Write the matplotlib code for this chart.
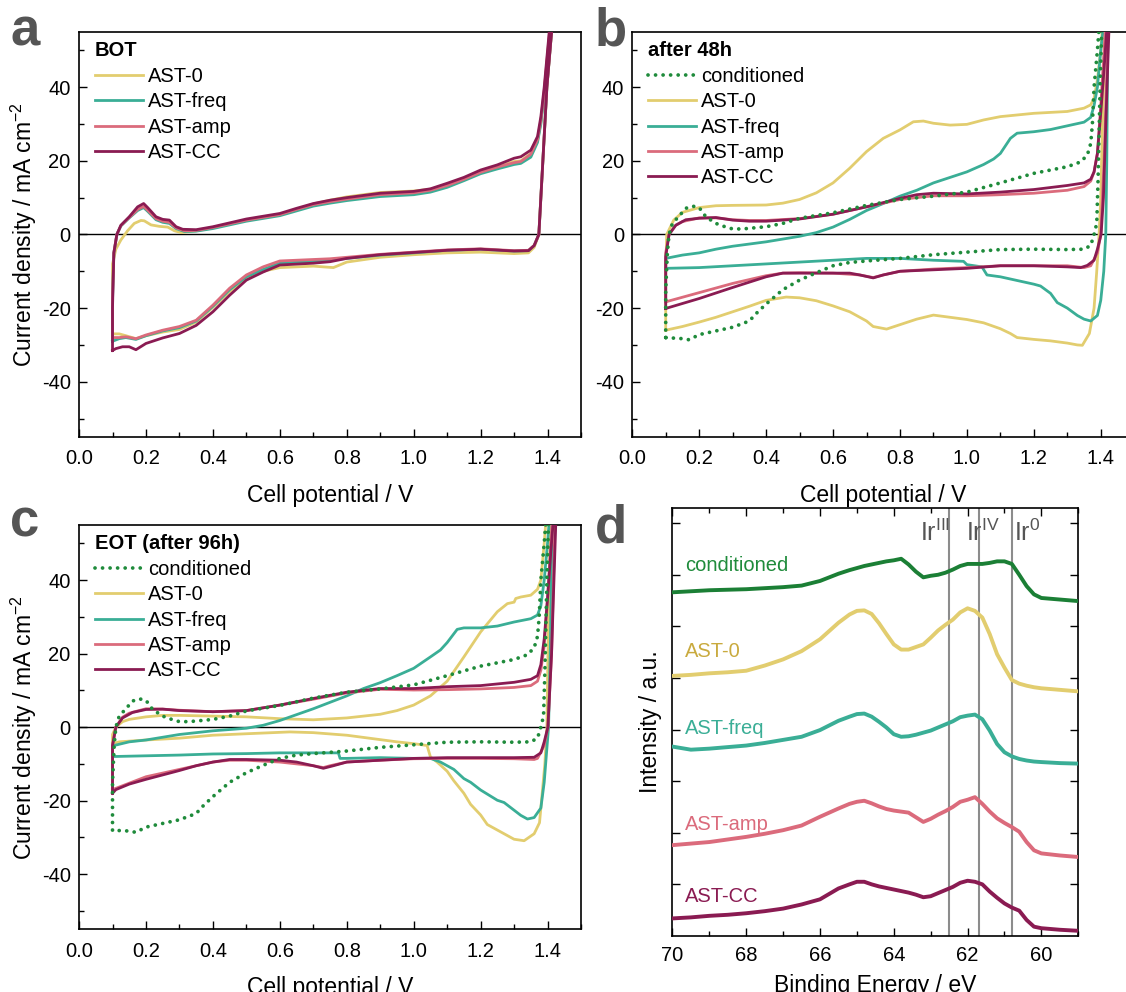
import matplotlib
matplotlib.use("Agg")
import matplotlib.pyplot as plt
from matplotlib.ticker import MultipleLocator, NullFormatter

plt.rcParams['font.family'] = ['Liberation Sans', 'DejaVu Sans']
plt.rcParams['mathtext.default'] = 'regular'

# ---------------- colours ----------------
C_0 = '#e2cd6f'
C_FREQ = '#3aae96'
C_AMP = '#db6b7c'
C_CC = '#8a1b52'
C_COND = '#1f8b3b'

labels_ast = ['AST-0', 'AST-freq', 'AST-amp', 'AST-CC']

# ================= Panel a (BOT) =================
a0_v = [0.100, 0.100, 0.110, 0.125, 0.145, 0.165, 0.185, 0.195, 0.215, 0.240, 0.265, 0.285, 0.305, 0.350, 0.400, 0.500, 0.600, 0.650, 0.700, 0.750, 0.800, 0.900, 1.000, 1.050, 1.100, 1.150, 1.200, 1.250, 1.300, 1.320, 1.350, 1.370, 1.380, 1.390, 1.400, 1.412, 1.425,
        1.412, 1.398, 1.386, 1.374, 1.360, 1.343, 1.300, 1.200, 1.100, 1.000, 0.900, 0.800, 0.760, 0.730, 0.700, 0.650, 0.600, 0.550, 0.500, 0.450, 0.400, 0.350, 0.300, 0.250, 0.200, 0.170, 0.140, 0.120, 0.100]
a0_j = [-27, -8, -4, -1.5, 1, 3, 3.8, 3.7, 2.6, 2.2, 2.0, 1.0, 0.5, 1.0, 1.8, 3.8, 5.4, 6.8, 8.3, 9.3, 10.2, 11.4, 11.8, 12.3, 13.5, 15.2, 17.0, 18.4, 19.8, 20.0, 22.0, 25.5, 30.5, 38.5, 48.5, 60, 72,
        55, 40, 20, 0, -3.5, -5.0, -5.2, -4.8, -5.0, -5.5, -6.2, -7.5, -9.0, -8.8, -8.6, -8.8, -9.0, -10.0, -11.8, -15.5, -19.8, -23.8, -25.8, -26.5, -27.5, -28.3, -27.5, -27.0, -27.0]

afreq_v = [0.100, 0.100, 0.104, 0.113, 0.125, 0.150, 0.175, 0.193, 0.205, 0.230, 0.250, 0.270, 0.290, 0.315, 0.350, 0.400, 0.500, 0.600, 0.650, 0.700, 0.750, 0.800, 0.900, 1.000, 1.050, 1.100, 1.150, 1.200, 1.250, 1.300, 1.320, 1.350, 1.370, 1.380, 1.390, 1.400, 1.410, 1.425,
           1.412, 1.398, 1.386, 1.374, 1.360, 1.343, 1.300, 1.200, 1.100, 1.000, 0.900, 0.800, 0.750, 0.700, 0.600, 0.550, 0.500, 0.450, 0.400, 0.350, 0.300, 0.250, 0.200, 0.170, 0.140, 0.120, 0.100]
afreq_j = [-29, -18, -5, 0, 2.3, 4.5, 6.5, 7.3, 6.3, 4.0, 3.3, 3.0, 1.6, 0.8, 0.9, 1.6, 3.6, 5.1, 6.4, 7.7, 8.5, 9.2, 10.3, 10.8, 11.5, 12.8, 14.6, 16.5, 17.8, 19.0, 19.3, 21.0, 25.0, 30.0, 38.0, 48.0, 58.0, 72,
           55, 40, 20, 0, -3, -4.4, -4.5, -4.0, -4.3, -5.0, -5.6, -6.5, -7.0, -7.3, -7.8, -9.5, -11.5, -15.0, -19.5, -23.5, -25.3, -26.2, -27.5, -28.5, -28.0, -28.3, -29.0]

aamp_v = [0.100, 0.100, 0.104, 0.113, 0.125, 0.150, 0.175, 0.193, 0.205, 0.230, 0.250, 0.270, 0.290, 0.315, 0.350, 0.400, 0.500, 0.600, 0.650, 0.700, 0.750, 0.800, 0.900, 1.000, 1.050, 1.100, 1.150, 1.200, 1.250, 1.300, 1.320, 1.350, 1.370, 1.380, 1.390, 1.400, 1.410, 1.425,
          1.412, 1.398, 1.386, 1.374, 1.360, 1.343, 1.300, 1.200, 1.100, 1.000, 0.900, 0.800, 0.750, 0.700, 0.600, 0.550, 0.500, 0.450, 0.400, 0.350, 0.300, 0.250, 0.200, 0.170, 0.140, 0.120, 0.100]
aamp_j = [-28, -17, -5, 0, 2.4, 4.6, 6.8, 7.6, 6.6, 4.3, 3.6, 3.3, 1.8, 1.0, 1.1, 1.9, 3.9, 5.4, 6.8, 8.1, 8.9, 9.6, 10.8, 11.3, 12.0, 13.3, 15.0, 16.9, 18.3, 19.5, 19.8, 21.8, 25.8, 31.0, 39.0, 49.0, 59.0, 72,
          55, 40, 20, 0, -3, -4.3, -4.4, -3.9, -4.2, -4.8, -5.4, -6.2, -6.6, -6.8, -7.2, -8.8, -11.0, -14.6, -19.2, -23.3, -25.0, -26.0, -27.3, -28.3, -27.8, -28.0, -28.0]

acc_v = [0.100, 0.100, 0.104, 0.113, 0.125, 0.150, 0.175, 0.193, 0.205, 0.230, 0.250, 0.270, 0.290, 0.310, 0.350, 0.400, 0.500, 0.600, 0.650, 0.700, 0.750, 0.800, 0.900, 1.000, 1.050, 1.100, 1.150, 1.200, 1.250, 1.300, 1.320, 1.350, 1.370, 1.380, 1.390, 1.400, 1.410, 1.425,
         1.412, 1.398, 1.386, 1.374, 1.360, 1.343, 1.300, 1.200, 1.100, 1.000, 0.900, 0.800, 0.750, 0.700, 0.600, 0.550, 0.500, 0.450, 0.400, 0.350, 0.300, 0.250, 0.200, 0.170, 0.150, 0.130, 0.110, 0.100]
acc_j = [-31.5, -20, -5, 0, 2.5, 4.8, 7.5, 8.4, 7.3, 4.8, 4.1, 3.9, 2.1, 1.4, 1.3, 2.1, 4.2, 5.7, 7.1, 8.4, 9.3, 10.0, 11.2, 11.7, 12.4, 13.9, 15.5, 17.5, 18.9, 20.7, 21.1, 22.9, 26.6, 32, 40, 50, 60, 72,
         55, 40, 20, 0, -3, -4.4, -4.5, -4.0, -4.3, -4.9, -5.5, -6.5, -7.4, -7.8, -8.3, -10.2, -12.4, -16.5, -21, -24.7, -26.9, -28.1, -29.6, -31.3, -30.5, -30.5, -31, -31.5]

# ================= conditioned (panels b and c) =================
cond_v = [0.100, 0.100, 0.105, 0.110, 0.120, 0.140, 0.160, 0.180, 0.200, 0.220, 0.250, 0.280, 0.300, 0.330, 0.400, 0.450, 0.500, 0.600, 0.700, 0.800, 0.900, 1.000, 1.100, 1.200, 1.300, 1.340, 1.360, 1.370, 1.375, 1.380, 1.390, 1.400,
          1.405, 1.398, 1.392, 1.388, 1.380, 1.370, 1.350, 1.300, 1.200, 1.100, 1.000, 0.900, 0.800, 0.700, 0.650, 0.600, 0.550, 0.500, 0.450, 0.400, 0.370, 0.350, 0.300, 0.250, 0.200, 0.170, 0.140, 0.110, 0.100]
cond_j = [-28, -15, -5, 0, 3, 5, 7.1, 7.7, 7.3, 4.8, 3.0, 2.0, 1.5, 1.5, 2.1, 3.0, 4.4, 5.9, 7.9, 9.5, 10.4, 11.5, 14.0, 16.6, 18.4, 19.7, 21.6, 24.7, 30, 40, 50, 62,
          62, 40, 15, 3, 0, -3, -4, -4.1, -4.0, -4.1, -4.8, -5.5, -6.5, -7.2, -7.6, -8.5, -10.4, -12.4, -15.0, -18.9, -21.5, -23.5, -25.2, -26.2, -27.2, -28.6, -28.2, -28.1, -28]

# ================= Panel b (after 48h) =================
b0_v = [0.100, 0.100, 0.103, 0.124, 0.150, 0.200, 0.250, 0.300, 0.400, 0.450, 0.500, 0.550, 0.600, 0.650, 0.700, 0.750, 0.800, 0.840, 0.870, 0.900, 0.950, 1.000, 1.050, 1.100, 1.200, 1.300, 1.350, 1.370, 1.380, 1.390, 1.400, 1.410,
        1.415, 1.405, 1.400, 1.395, 1.388, 1.380, 1.366, 1.345, 1.330, 1.300, 1.250, 1.200, 1.150, 1.130, 1.100, 1.050, 1.000, 0.950, 0.900, 0.850, 0.800, 0.760, 0.720, 0.700, 0.650, 0.600, 0.550, 0.500, 0.460, 0.400, 0.350, 0.300, 0.250, 0.200, 0.150, 0.100]
b0_j = [-26, -10, 0, 3.9, 6.0, 7.3, 7.8, 7.9, 8.0, 8.5, 9.5, 11.3, 14.0, 18.0, 22.5, 26.1, 28.4, 30.6, 30.8, 30.2, 29.7, 29.9, 31.1, 32.0, 32.9, 33.4, 34.3, 35.2, 37.0, 42.0, 50, 62,
        62, 30, 10, 0, -10, -20, -26.9, -30.1, -30.0, -29.5, -28.9, -28.5, -28.0, -26.9, -25.6, -24.0, -23.1, -22.5, -21.9, -23.0, -24.5, -25.7, -25.0, -23.5, -21.0, -19.4, -18.0, -17.2, -17.0, -17.9, -19.5, -21.0, -22.5, -23.8, -25.0, -26.0]

bfreq_v = [0.100, 0.100, 0.150, 0.200, 0.250, 0.300, 0.400, 0.500, 0.550, 0.600, 0.650, 0.700, 0.750, 0.800, 0.850, 0.900, 0.950, 1.000, 1.050, 1.080, 1.100, 1.130, 1.150, 1.200, 1.250, 1.300, 1.350, 1.370, 1.380, 1.390, 1.400, 1.410, 1.420,
           1.422, 1.418, 1.415, 1.409, 1.400, 1.390, 1.370, 1.350, 1.330, 1.300, 1.270, 1.250, 1.220, 1.200, 1.150, 1.100, 1.060, 1.045, 1.000, 0.990, 0.900, 0.800, 0.700, 0.600, 0.500, 0.400, 0.300, 0.200, 0.100]
bfreq_j = [-9.2, -6.5, -5.6, -5.0, -4.0, -3.2, -2.0, -0.5, 0.5, 2.0, 4.1, 6.5, 8.4, 10.4, 12.0, 14.0, 15.5, 17.0, 19.0, 20.5, 22.0, 26.1, 27.5, 27.9, 28.5, 29.5, 30.5, 31.8, 35, 40, 50, 58, 65,
           65, 20, 0, -10, -17.9, -22, -23.5, -23, -22, -20, -18.5, -16, -14, -13.5, -12.5, -11.5, -11, -8.8, -8.2, -7.3, -7.0, -6.5, -6.5, -7.0, -7.5, -8.0, -8.5, -9.0, -9.2]

bamp_v = [0.100, 0.100, 0.110, 0.130, 0.150, 0.200, 0.250, 0.300, 0.350, 0.400, 0.500, 0.600, 0.700, 0.800, 0.900, 1.000, 1.100, 1.200, 1.300, 1.350, 1.370, 1.380, 1.390, 1.400, 1.410, 1.420,
          1.425, 1.410, 1.400, 1.390, 1.370, 1.350, 1.300, 1.200, 1.100, 1.000, 0.900, 0.800, 0.750, 0.720, 0.680, 0.600, 0.500, 0.450, 0.400, 0.300, 0.200, 0.100]
bamp_j = [-18.3, -5, 0, 2.5, 3.5, 4.5, 4.5, 4.0, 3.8, 3.8, 4.3, 5.5, 7.5, 9.5, 10.5, 10.5, 10.8, 11.2, 12.0, 13.0, 14.5, 17.0, 22.0, 35.0, 50, 65,
          65, 20, 0, -5, -8.5, -9, -8.5, -8.5, -8.5, -9.0, -9.4, -10.0, -11.0, -11.7, -11.0, -10.5, -10.4, -10.5, -11.2, -13.3, -15.8, -18.3]

bcc_v = [0.100, 0.100, 0.110, 0.130, 0.160, 0.200, 0.250, 0.300, 0.350, 0.400, 0.500, 0.600, 0.700, 0.800, 0.850, 0.900, 1.000, 1.100, 1.200, 1.300, 1.350, 1.370, 1.380, 1.390, 1.400, 1.410, 1.425,
         1.428, 1.415, 1.408, 1.401, 1.390, 1.380, 1.360, 1.340, 1.300, 1.200, 1.100, 1.000, 0.900, 0.800, 0.750, 0.720, 0.680, 0.650, 0.550, 0.450, 0.400, 0.300, 0.200, 0.100]
bcc_j = [-20.1, -6, 0, 2.5, 4.0, 4.4, 4.6, 3.9, 3.6, 3.6, 4.2, 5.5, 7.5, 9.8, 10.8, 11.2, 11.0, 11.5, 12.2, 13.3, 14.0, 15.0, 17.0, 22.0, 33.0, 45.0, 65,
         65, 30, 10, 0, -4, -7, -8.4, -9, -8.8, -8.5, -8.5, -9.2, -9.6, -10.0, -11.0, -11.8, -11.0, -10.5, -10.5, -10.5, -11.5, -14.4, -17.4, -20.1]

# ================= Panel c (EOT, after 96h) =================
c0_v = [0.100, 0.100, 0.110, 0.130, 0.150, 0.200, 0.250, 0.300, 0.400, 0.500, 0.600, 0.700, 0.800, 0.900, 0.950, 1.000, 1.050, 1.100, 1.150, 1.200, 1.250, 1.280, 1.300, 1.305, 1.320, 1.350, 1.370, 1.380, 1.390, 1.400,
        1.410, 1.402, 1.398, 1.392, 1.385, 1.376, 1.360, 1.330, 1.300, 1.270, 1.250, 1.220, 1.200, 1.170, 1.150, 1.120, 1.100, 1.070, 1.050, 1.040, 1.000, 0.950, 0.900, 0.800, 0.700, 0.630, 0.500, 0.400, 0.300, 0.200, 0.120, 0.100]
c0_j = [-4.5, -2, 0, 1.5, 2.1, 2.8, 3.2, 3.2, 3.0, 2.8, 2.3, 2.0, 2.5, 3.5, 4.5, 6.0, 8.5, 12.5, 19.1, 25.9, 31.4, 33.6, 34.0, 35.0, 35.4, 35.9, 37.5, 40.0, 50.0, 62,
        62, 25, 0, -10, -17, -26, -29, -30.9, -30.5, -29, -28, -26.5, -23.9, -21, -18, -14.6, -12, -9.5, -8.1, -5.0, -4.5, -4.0, -3.4, -2.2, -1.5, -1.3, -1.8, -2.2, -3.0, -3.5, -4.0, -4.5]

cfreq_v = [0.100, 0.100, 0.150, 0.200, 0.300, 0.400, 0.500, 0.550, 0.600, 0.700, 0.800, 0.850, 0.900, 0.950, 1.000, 1.050, 1.080, 1.100, 1.130, 1.150, 1.200, 1.250, 1.300, 1.350, 1.370, 1.380, 1.390, 1.400, 1.410,
           1.415, 1.408, 1.403, 1.390, 1.380, 1.360, 1.340, 1.320, 1.300, 1.270, 1.250, 1.200, 1.170, 1.150, 1.120, 1.100, 1.080, 1.050, 1.000, 0.900, 0.800, 0.780, 0.775, 0.700, 0.600, 0.500, 0.400, 0.300, 0.200, 0.100]
cfreq_j = [-8.0, -5.1, -4.0, -3.5, -2.0, -1.0, -0.3, 0.5, 1.8, 5.0, 8.5, 10.5, 12.1, 14.0, 16.0, 19.1, 21.0, 23.0, 26.6, 27.0, 27.0, 27.5, 28.6, 29.5, 30.5, 33.0, 40.0, 50.0, 62,
           62, 20, 0, -15, -22, -24.6, -25, -24, -22.6, -20.5, -19.9, -17.1, -15, -14, -11.5, -10.5, -9.5, -8.5, -8.5, -8.3, -8.5, -8.5, -7.0, -7.0, -7.0, -7.2, -7.3, -7.6, -7.8, -8.0]

camp_v = [0.100, 0.100, 0.110, 0.130, 0.150, 0.200, 0.250, 0.300, 0.400, 0.500, 0.600, 0.700, 0.800, 0.900, 1.000, 1.100, 1.200, 1.300, 1.350, 1.370, 1.380, 1.390, 1.400, 1.410, 1.420,
          1.425, 1.412, 1.401, 1.390, 1.370, 1.360, 1.300, 1.200, 1.100, 1.000, 0.900, 0.800, 0.750, 0.730, 0.700, 0.600, 0.500, 0.450, 0.400, 0.300, 0.200, 0.100]
camp_j = [-17.5, -5, 0, 2.7, 3.8, 5.0, 4.9, 4.6, 4.2, 4.5, 6.0, 7.6, 9.3, 10.3, 10.1, 10.2, 10.4, 10.8, 11.3, 12.5, 15.5, 22, 35, 50, 65,
          65, 20, 0, -5, -8.5, -8.8, -8.6, -8.5, -8.5, -8.6, -9.0, -9.5, -10.5, -11.0, -10.5, -9.5, -9.0, -9.0, -9.5, -11.5, -13.5, -17.0]

ccc_v = [0.100, 0.100, 0.110, 0.130, 0.160, 0.200, 0.250, 0.300, 0.400, 0.500, 0.600, 0.700, 0.800, 0.900, 1.000, 1.100, 1.200, 1.300, 1.350, 1.370, 1.380, 1.390, 1.400, 1.410, 1.425,
         1.428, 1.412, 1.401, 1.390, 1.380, 1.360, 1.300, 1.200, 1.100, 1.000, 0.900, 0.800, 0.760, 0.730, 0.700, 0.650, 0.600, 0.500, 0.450, 0.400, 0.350, 0.300, 0.250, 0.200, 0.150, 0.110, 0.100]
ccc_j = [-18, -5, 0, 2.5, 4.0, 4.8, 4.9, 4.5, 4.2, 4.5, 6.0, 7.8, 9.5, 10.5, 10.5, 11.0, 11.3, 12.2, 13.0, 14.0, 17.0, 24.0, 35.0, 48.0, 65,
         65, 20, 0, -4, -7, -8.2, -8.3, -8.3, -8.3, -8.5, -9.0, -9.5, -10.5, -11.2, -10.5, -9.5, -9.0, -8.8, -8.8, -9.5, -10.5, -11.8, -13.0, -14.2, -15.5, -17.0, -18.0]

# ================= Panel d (XPS Ir 4f) =================
d_be = [70, 69.5, 69, 68.5, 68, 67.5, 67, 66.5, 66, 65.5, 65.2, 65, 64.8, 64.6, 64.4, 64.2, 64, 63.8, 63.6, 63.4, 63.2, 63, 62.8, 62.6, 62.4, 62.2, 62, 61.8, 61.6, 61.4, 61.2, 61, 60.8, 60.6, 60.4, 60.2, 60, 59.5, 59]
d_cond = [6.66, 6.68, 6.70, 6.71, 6.72, 6.74, 6.76, 6.79, 6.88, 7.02, 7.09, 7.13, 7.17, 7.20, 7.23, 7.26, 7.28, 7.31, 7.20, 7.06, 6.95, 6.98, 7.00, 7.04, 7.10, 7.17, 7.21, 7.21, 7.21, 7.23, 7.26, 7.26, 7.21, 7.00, 6.78, 6.62, 6.55, 6.52, 6.49]
d_ast0 = [5.04, 5.06, 5.09, 5.11, 5.14, 5.24, 5.36, 5.52, 5.75, 6.07, 6.23, 6.30, 6.31, 6.24, 6.06, 5.85, 5.65, 5.55, 5.55, 5.60, 5.65, 5.78, 5.92, 6.03, 6.13, 6.27, 6.35, 6.30, 6.17, 5.85, 5.46, 5.20, 4.96, 4.89, 4.85, 4.82, 4.80, 4.77, 4.74]
d_freq = [3.67, 3.61, 3.63, 3.66, 3.69, 3.74, 3.80, 3.86, 3.99, 4.17, 4.25, 4.30, 4.31, 4.25, 4.15, 4.04, 3.91, 3.86, 3.87, 3.90, 3.94, 3.98, 4.04, 4.10, 4.16, 4.24, 4.27, 4.29, 4.20, 3.98, 3.72, 3.56, 3.48, 3.43, 3.40, 3.38, 3.37, 3.35, 3.34]
d_amp = [1.76, 1.79, 1.82, 1.87, 1.92, 1.98, 2.05, 2.14, 2.31, 2.47, 2.56, 2.60, 2.62, 2.57, 2.51, 2.46, 2.43, 2.41, 2.39, 2.30, 2.21, 2.27, 2.35, 2.42, 2.50, 2.60, 2.64, 2.69, 2.56, 2.41, 2.28, 2.19, 2.11, 2.02, 1.82, 1.66, 1.60, 1.56, 1.53]
d_cc = [0.34, 0.36, 0.39, 0.41, 0.44, 0.48, 0.53, 0.61, 0.71, 0.92, 1.00, 1.05, 1.05, 1.00, 0.96, 0.93, 0.90, 0.87, 0.84, 0.80, 0.75, 0.77, 0.83, 0.89, 0.95, 1.03, 1.07, 1.05, 1.00, 0.86, 0.74, 0.63, 0.55, 0.49, 0.31, 0.18, 0.15, 0.12, 0.10]
d_labels = ['conditioned', 'AST-0', 'AST-freq', 'AST-amp', 'AST-CC']
d_label_y = [7.17, 5.51, 4.03, 2.16, 0.77]
d_label_colors = [C_COND, '#c9aa3e', C_FREQ, C_AMP, C_CC]
ir_lines = [62.5, 61.7, 60.8]
ir_labels = ['Ir$^{III}$', 'Ir$^{IV}$', 'Ir$^{0}$']
ir_label_x = [62.88, 61.58, 60.37]

# ---------------- figure ----------------
fig = plt.figure(figsize=(11.26, 9.92), dpi=100)
TICK_FS = 14.5
LAB_FS = 16.5
LEG_FS = 14.5
LW = 2.0
DOT = dict(linestyle=(0, (0.01, 2.0)), dash_capstyle='round', linewidth=2.7)


def style_cv(ax, ylabel=True):
    ax.set_xlim(0, 1.5)
    ax.set_ylim(-55, 55)
    ax.xaxis.set_minor_locator(MultipleLocator(0.1))
    ax.yaxis.set_minor_locator(MultipleLocator(10))
    ax.set_xticks([0.0, 0.2, 0.4, 0.6, 0.8, 1.0, 1.2, 1.4])
    ax.set_xticklabels(['0.0', '0.2', '0.4', '0.6', '0.8', '1.0', '1.2', '1.4'])
    ax.set_yticks([-40, -20, 0, 20, 40])
    ax.set_yticklabels(['-40', '-20', '0', '20', '40'])
    ax.tick_params(which='both', direction='in', top=False, right=False, width=1.0)
    ax.tick_params(which='major', length=6)
    ax.tick_params(which='minor', length=3.5)
    ax.tick_params(axis='x', which='major', labelsize=TICK_FS, pad=9)
    ax.tick_params(axis='y', which='major', labelsize=TICK_FS, pad=6)
    for s in ax.spines.values():
        s.set_linewidth(1.2)
    ax.axhline(0, color='black', linewidth=1.0, zorder=1)
    ax.set_xlabel('Cell potential / V', fontsize=LAB_FS, labelpad=11)
    if ylabel:
        ax.set_ylabel('Current density / mA cm$^{-2}$', fontsize=LAB_FS, labelpad=2)


def legend_cv(ax, handles, labels, title):
    leg = ax.legend(handles, labels, title=title, loc='upper left',
                    bbox_to_anchor=(0.031, 0.977), frameon=False, fontsize=LEG_FS,
                    title_fontproperties={'weight': 'bold', 'size': LEG_FS},
                    alignment='left', handlelength=2.4, handletextpad=0.25,
                    labelspacing=0.32, borderpad=0, borderaxespad=0)
    return leg


# ---- panel a ----
ax_a = fig.add_axes([0.0702, 0.5595, 0.4458, 0.4083])
la0, = ax_a.plot(a0_v, a0_j, color=C_0, lw=LW, zorder=3)
lafr, = ax_a.plot(afreq_v, afreq_j, color=C_FREQ, lw=LW, zorder=4)
laam, = ax_a.plot(aamp_v, aamp_j, color=C_AMP, lw=LW, zorder=5)
lacc, = ax_a.plot(acc_v, acc_j, color=C_CC, lw=LW, zorder=6)
style_cv(ax_a)
legend_cv(ax_a, [la0, lafr, laam, lacc], labels_ast, 'BOT')

# ---- panel b ----
ax_b = fig.add_axes([0.5615, 0.5595, 0.4458, 0.4083])
lb0, = ax_b.plot(b0_v, b0_j, color=C_0, lw=LW, zorder=3)
lbfr, = ax_b.plot(bfreq_v, bfreq_j, color=C_FREQ, lw=LW, zorder=4)
lbam, = ax_b.plot(bamp_v, bamp_j, color=C_AMP, lw=LW, zorder=5)
lbcc, = ax_b.plot(bcc_v, bcc_j, color=C_CC, lw=LW, zorder=6)
lbco, = ax_b.plot(cond_v, cond_j, color=C_COND, zorder=7, **DOT)
style_cv(ax_b, ylabel=False)
legend_cv(ax_b, [lbco, lb0, lbfr, lbam, lbcc], ['conditioned'] + labels_ast, 'after 48h')

# ---- panel c ----
ax_c = fig.add_axes([0.0702, 0.0632, 0.4458, 0.4076])
lc0, = ax_c.plot(c0_v, c0_j, color=C_0, lw=LW, zorder=3)
lcfr, = ax_c.plot(cfreq_v, cfreq_j, color=C_FREQ, lw=LW, zorder=4)
lcam, = ax_c.plot(camp_v, camp_j, color=C_AMP, lw=LW, zorder=5)
lccc, = ax_c.plot(ccc_v, ccc_j, color=C_CC, lw=LW, zorder=6)
lcco, = ax_c.plot(cond_v, cond_j, color=C_COND, zorder=7, **DOT)
style_cv(ax_c)
legend_cv(ax_c, [lcco, lc0, lcfr, lcam, lccc], ['conditioned'] + labels_ast, 'EOT (after 96h)')

# ---- panel d ----
ax_d = fig.add_axes([0.5972, 0.0565, 0.3604, 0.4312])
for yy, col in zip([d_cond, d_ast0, d_freq, d_amp, d_cc],
                   ['#1b7f35', C_0, C_FREQ, C_AMP, C_CC]):
    ax_d.plot(d_be, yy, color=col, lw=2.8, zorder=3)
for xv in ir_lines:
    ax_d.axvline(xv, color='#8c8c8c', lw=1.5, zorder=2)
for xt, t in zip(ir_label_x, ir_labels):
    ax_d.text(xt, 7.81, t, ha='center', va='center', fontsize=18, color='#555555')
for t, yv, col in zip(d_labels, d_label_y, d_label_colors):
    ax_d.text(69.65, yv, t, ha='left', va='center', fontsize=LEG_FS, color=col)
ax_d.set_xlim(70, 59)
ax_d.set_ylim(0, 8.29)
ax_d.xaxis.set_major_locator(MultipleLocator(2))
ax_d.xaxis.set_minor_locator(MultipleLocator(1))
ax_d.set_yticks([1, 2, 3, 4, 5, 6, 7, 8])
ax_d.yaxis.set_major_formatter(NullFormatter())
ax_d.tick_params(which='both', direction='in', top=True, right=True, width=1.0)
ax_d.tick_params(which='major', length=6)
ax_d.tick_params(which='minor', length=3.5)
ax_d.tick_params(axis='x', which='major', labelsize=TICK_FS, pad=7)
for s in ax_d.spines.values():
    s.set_linewidth(1.2)
ax_d.set_xlabel('Binding Energy / eV', fontsize=LAB_FS, labelpad=7)
ax_d.set_ylabel('Intensity / a.u.', fontsize=LAB_FS, labelpad=4)

# ---- panel letters ----
for x, y, t in [(0.009, 0.9546, 'a'), (0.528, 0.9546, 'b'), (0.009, 0.4587, 'c'), (0.528, 0.4536, 'd')]:
    fig.text(x, y, t, fontsize=38, fontweight='bold', color='#555555', va='baseline', ha='left')

fig.savefig('out.png', dpi=100)
